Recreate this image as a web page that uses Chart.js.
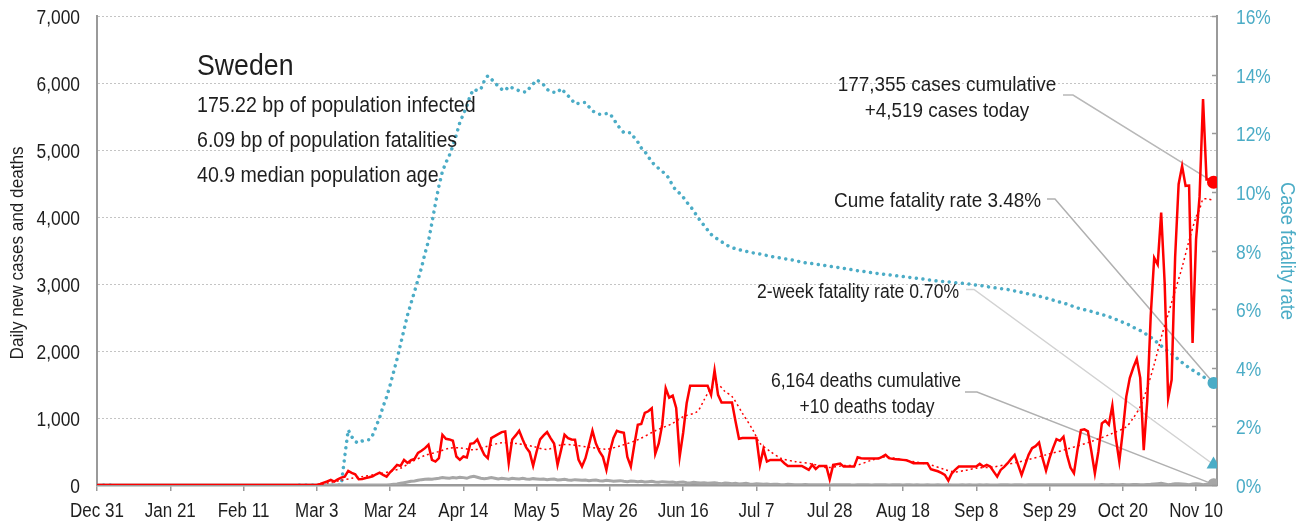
<!DOCTYPE html>
<html><head><meta charset="utf-8">
<script src="https://cdn.jsdelivr.net/npm/chart.js@4.4.0/dist/chart.umd.min.js"></script>
<style>html,body{margin:0;padding:0;background:#fff;overflow:hidden}#wrap{width:1308px;height:524px;position:relative}</style>
</head><body><div id="wrap"><canvas id="c" width="1308" height="524"></canvas></div>
<script>
// ---- data (day index 0 = Dec 31, 2019) ----
const tickLabels = ['Dec 31','Jan 21','Feb 11','Mar 3','Mar 24','Apr 14','May 5','May 26','Jun 16','Jul 7','Jul 28','Aug 18','Sep 8','Sep 29','Oct 20','Nov 10'];
const tickStep = 21;

const cases = [
0,0,0,0,0,0,0,0,0,0, 0,0,0,0,0,0,0,0,0,0, 0,0,0,0,0,0,0,0,0,0,
0,0,0,0,0,0,0,0,0,0, 0,0,0,0,0,0,0,0,0,0, 0,0,0,0,0,0,0,0,0,0,
0,0,0,0,15,35,55,75,50,85,
110,125,210,180,160,85,90,105,115,130,
160,185,150,125,190,240,300,285,375,330,
370,390,480,510,550,600,375,350,400,750,
690,680,660,425,375,425,410,615,625,680,
560,450,400,700,730,760,790,800,325,680,
740,810,680,560,490,285,500,680,740,790,
700,620,300,520,750,700,680,675,380,275,
400,600,810,620,500,420,225,500,700,810,
790,780,420,275,600,900,910,1075,1100,1145,
465,620,900,1445,1305,1335,1150,425,780,1220,
1480,1480,1480,1480,1480,1480,1345,1710,1345,1230,
1230,1230,1230,950,690,700,700,700,700,700,
300,535,350,375,375,375,375,325,285,285,
285,285,285,255,225,300,240,285,285,285,
85,300,310,320,275,275,275,275,415,400,
395,395,395,395,395,420,450,400,390,385,
380,375,370,350,325,325,325,325,325,235,
220,205,180,150,65,175,230,275,275,275,
275,275,275,315,275,300,275,200,125,225,
270,325,390,450,300,150,300,450,550,580,
635,400,215,400,550,685,660,720,450,260,
175,520,820,830,800,500,175,500,920,960,
900,1185,700,350,800,1320,1595,1750,1880,1600,
520,1250,2520,3390,3290,4065,3015,1295,1570,3400,
4490,4760,4465,4470,2120,3665,4300,5760,4560,4560,
4519];

const trendDays   = [0,63,66,70,73,76,80,84,87,90,94,98,101,104,108,112,116,120,125,129,133,136,141,146,150,155,160,165,168,172,174,176,178,180,182,185,188,190,193,196,200,205,209,214,218,222,226,231,235,239,243,246,249,252,257,260,264,267,272,278,285,291,295,297,299,301,303,305,307,309,311,313,315,316,317,318,320];
const trendValues = [0,0,30,70,100,125,160,200,250,340,440,500,550,555,525,580,630,620,575,530,600,600,565,535,585,675,810,920,1020,1095,1270,1445,1495,1395,1320,1070,820,625,500,400,350,315,260,290,300,370,420,375,340,300,230,195,220,250,270,300,340,380,450,535,650,770,870,1000,1170,1450,1800,2200,2550,2900,3250,3650,4000,4115,4265,4270,4250];

const fatalityRate = [
0,0,0,0,0,0,null,null,null,null,
null,null,null,null,null,null,null,null,null,null,
null,null,null,null,null,null,null,null,null,null,
null,null,null,null,null,null,null,null,null,null,
null,null,null,null,null,null,null,null,null,null,
null,null,null,null,null,null,null,null,0,0,
0,0,0,0,0,0,0,0,0,0,
0,0.97,1.88,1.65,1.48,1.43,1.5,1.54,1.54,1.7,
2.0,2.3,2.68,3.0,3.4,3.85,4.3,4.8,5.3,5.8,
6.2,6.6,7.0,7.41,7.9,8.32,8.95,9.6,10.2,10.7,
11.0,11.25,11.57,11.95,12.37,12.65,12.93,13.3,13.5,13.45,
13.5,13.79,13.96,13.85,13.73,13.6,13.5,13.45,13.6,13.55,
13.5,13.45,13.42,13.4,13.55,13.68,13.82,13.75,13.65,13.5,
13.41,13.4,13.39,13.53,13.4,13.28,13.15,13.0,13.02,13.05,
13.05,12.9,12.76,12.7,12.65,12.66,12.67,12.67,12.5,12.31,
12.15,12.02,12.02,12.02,11.85,11.7,11.5,11.38,11.2,11.02,
10.9,10.8,10.7,10.6,10.45,10.2,10.05,9.95,9.82,9.65,
9.52,9.35,9.17,9.0,8.85,8.7,8.55,8.45,8.38,8.3,
8.22,8.15,8.1,8.06,8.03,8.0,7.97,7.95,7.92,7.9,
7.88,7.85,7.83,7.8,7.78,7.76,7.74,7.72,7.7,7.68,
7.66,7.63,7.61,7.58,7.57,7.55,7.53,7.52,7.5,7.48,
7.46,7.44,7.43,7.41,7.39,7.37,7.35,7.33,7.31,7.3,
7.28,7.26,7.24,7.23,7.21,7.2,7.18,7.17,7.15,7.14,
7.13,7.11,7.1,7.08,7.07,7.05,7.04,7.02,7.0,6.99,
6.97,6.96,6.95,6.94,6.93,6.92,6.9,6.89,6.88,6.87,
6.86,6.84,6.82,6.81,6.79,6.77,6.75,6.73,6.72,6.7,
6.69,6.67,6.64,6.62,6.6,6.57,6.54,6.52,6.5,6.47,
6.44,6.41,6.38,6.35,6.31,6.27,6.24,6.21,6.17,6.13,
6.08,6.04,6.01,5.98,5.95,5.92,5.88,5.85,5.82,5.78,
5.74,5.7,5.65,5.6,5.55,5.5,5.45,5.38,5.32,5.27,
5.2,5.12,5.04,4.95,4.85,4.75,4.65,4.56,4.47,4.38,
4.28,4.18,4.09,4.0,3.92,3.85,3.77,3.7,3.62,3.55,
3.48];

const deaths = [
0,0,0,0,0,0,0,0,0,0, 0,0,0,0,0,0,0,0,0,0, 0,0,0,0,0,0,0,0,0,0, 0,0,0,0,0,0,0,0,0,0,
0,0,0,0,0,0,0,0,0,0, 0,0,0,0,0,0,0,0,0,0, 0,0,0,0,0,0,0,0,0,0, 0,0,0,0,0,0,0,0,0,0,
0,0,0,0,5,10,15,25,35,45,
55,60,70,80,85,90,85,95,100,110,
105,100,110,105,115,110,100,120,130,115,
100,95,100,110,100,90,100,95,85,100,
95,90,100,90,85,95,90,85,90,80,
85,90,75,80,85,75,70,80,75,70,
75,65,70,75,65,60,70,65,55,60,
65,55,50,60,55,50,55,45,50,55,
45,40,50,45,40,45,35,40,45,35,
30,40,35,30,35,25,30,35,25,20,
30,25,20,25,15,20,25,15,10,20,
15,10,15,8,10,12,5,5,10,8,
5,3,5,6,2,4,3,2,3,4,
0,3,4,2,3,5,2,1,3,4,
2,3,1,2,4,3,2,1,2,3,
2,1,2,3,1,2,1,0,2,1,
1,2,0,1,2,1,0,1,2,1,
2,1,0,2,1,2,1,0,1,2,
2,3,1,2,3,2,1,3,2,4,
3,2,4,3,2,3,5,3,2,4,
3,5,4,2,3,5,4,3,6,5,
4,6,3,5,7,5,4,6,8,5,
5,8,10,15,20,25,15,5,10,20,
20,15,10,5,15,20,15,5,10,5,
10];

const twoWeekRate = 0.70;
const country = 'Sweden';
const infoLines = ['175.22 bp of population infected','6.09 bp of population fatalities','40.9 median population age'];
const casesNote = ['177,355 cases cumulative','+4,519 cases today'];
const cumeNote = 'Cume fatality rate 3.48%';
const twoWeekNote = '2-week fatality rate 0.70%';
const deathsNote = ['6,164 deaths cumulative','+10 deaths today'];
const leftTitle = 'Daily new cases and deaths';
const rightTitle = 'Case fatality rate';

// ---- styling ----
const FONT = "'Liberation Sans', Arial, sans-serif";
const TEAL = '#4bacc6', RED = '#ff0000', GREY = '#a6a6a6', AXIS = '#9a9a9a', INK = '#1e1e1e';
const lastDay = cases.length - 1;
const xy = arr => arr.map((v, i) => ({x: i, y: v}));

// condensed-looking text: regular face squeezed horizontally
function txt(ctx, s, x, y, o) {
  ctx.save();
  ctx.translate(x, y);
  if (o.rot) ctx.rotate(o.rot);
  ctx.scale(o.sx || 0.88, 1);
  ctx.font = `${o.weight || 'normal'} ${o.size}px ${FONT}`;
  ctx.fillStyle = o.color || INK;
  ctx.textAlign = o.align || 'left';
  ctx.textBaseline = o.base || 'alphabetic';
  ctx.fillText(s, 0, 0);
  ctx.restore();
}

const overlay = {
  id: 'overlay',
  beforeDatasetsDraw(chart) {
    const {ctx, scales: {x, y, y1}} = chart;
    const px = x.getPixelForValue(lastDay);
    const leaders = [
      {pts: [[1063, 95], [1073, 95]], to: [px, y.getPixelForValue(cases[lastDay])], c: '#b8b8b8'},
      {pts: [[1047, 199], [1055, 199]], to: [px, y1.getPixelForValue(fatalityRate[lastDay])], c: '#b0b0b0'},
      {pts: [[966, 289.5], [974, 289.5]], to: [px, y1.getPixelForValue(twoWeekRate)], c: '#d2d2d2'},
      {pts: [[965, 392], [977, 392]], to: [px, y.getPixelForValue(deaths[lastDay])], c: '#b0b0b0'}
    ];
    ctx.save();
    ctx.lineWidth = 1.5;
    leaders.forEach(l => {
      ctx.strokeStyle = l.c;
      ctx.beginPath();
      ctx.moveTo(l.pts[0][0], l.pts[0][1]);
      ctx.lineTo(l.pts[1][0], l.pts[1][1]);
      ctx.lineTo(l.to[0], l.to[1]);
      ctx.stroke();
    });
    ctx.restore();
  },
  afterDraw(chart) {
    const {ctx, scales: {x, y, y1}, chartArea} = chart;
    ctx.save();
    // right axis inward ticks
    ctx.strokeStyle = AXIS; ctx.lineWidth = 1.5;
    y1.ticks.forEach(t => {
      const py = Math.round(y1.getPixelForValue(t.value)) + 0.5;
      ctx.beginPath(); ctx.moveTo(chartArea.right - 5, py); ctx.lineTo(chartArea.right, py); ctx.stroke();
    });
    ctx.restore();
    // tick labels (from the scales' own ticks)
    x.ticks.forEach(t => txt(ctx, String(t.label), x.getPixelForValue(t.value), 517, {size: 20, sx: 0.85, align: 'center'}));
    y.ticks.forEach(t => txt(ctx, String(t.label), 80, y.getPixelForValue(t.value) + 2.5, {size: 20, sx: 0.87, align: 'right', base: 'middle'}));
    y1.ticks.forEach(t => txt(ctx, String(t.label), 1236, y1.getPixelForValue(t.value) + 2.5, {size: 20, sx: 0.87, align: 'left', base: 'middle', color: TEAL}));
    // info block
    txt(ctx, country, 197, 75, {size: 30, sx: 0.89});
    infoLines.forEach((t, i) => txt(ctx, t, 197, 112 + i * 35, {size: 22.5, sx: 0.87}));
    // notes
    txt(ctx, casesNote[0], 947, 91, {size: 21, sx: 0.9, align: 'center'});
    txt(ctx, casesNote[1], 947, 117, {size: 21, sx: 0.9, align: 'center'});
    txt(ctx, cumeNote, 1041, 207, {size: 21, sx: 0.9, align: 'right'});
    txt(ctx, twoWeekNote, 959, 298, {size: 19.5, sx: 0.9, align: 'right'});
    txt(ctx, deathsNote[0], 866, 387, {size: 19.5, sx: 0.9, align: 'center'});
    txt(ctx, deathsNote[1], 867, 413, {size: 19.5, sx: 0.9, align: 'center'});
    // axis titles
    txt(ctx, leftTitle, 18, 253, {size: 19, sx: 0.9, align: 'center', base: 'middle', rot: -Math.PI / 2});
    txt(ctx, rightTitle, 1287, 251, {size: 20, sx: 0.92, align: 'center', base: 'middle', rot: Math.PI / 2, color: TEAL});
  }
};

const marker = (val, axis, color, style, r, order) => ({
  data: [{x: lastDay, y: val}], yAxisID: axis, showLine: false,
  pointStyle: style, pointRadius: r, pointBackgroundColor: color, pointBorderColor: color,
  pointBorderWidth: 0, order
});

const HIDDEN = 'rgba(0,0,0,0)';
const TINY = {family: FONT, size: 1};
new Chart(document.getElementById('c'), {
  type: 'line',
  data: {
    datasets: [
      {data: xy(cases), yAxisID: 'y', borderColor: RED, borderWidth: 2.5, pointRadius: 0, tension: 0, order: 2},
      {data: trendDays.map((d, i) => ({x: d, y: trendValues[i]})), yAxisID: 'y', borderColor: RED, borderWidth: 1.5, borderDash: [2, 3], pointRadius: 0, tension: 0.3, order: 3},
      {data: xy(deaths), yAxisID: 'y', borderColor: GREY, borderWidth: 3, pointRadius: 0, tension: 0, order: 4},
      {data: xy(fatalityRate), yAxisID: 'y1', borderColor: TEAL, borderWidth: 3.5, borderDash: [0.01, 6.6], borderCapStyle: 'round', pointRadius: 0, tension: 0, spanGaps: false, order: 5},
      marker(cases[lastDay], 'y', RED, 'circle', 6.5, 0),
      marker(fatalityRate[lastDay], 'y1', TEAL, 'circle', 6, 0),
      marker(twoWeekRate, 'y1', TEAL, 'triangle', 8, 0),
      marker(deaths[lastDay], 'y', GREY, 'circle', 6, 0)
    ]
  },
  options: {
    responsive: false, animation: false, devicePixelRatio: 1,
    layout: {padding: {top: 16, left: 0, right: 0, bottom: 0}},
    plugins: {legend: {display: false}, tooltip: {enabled: false}},
    scales: {
      x: {
        type: 'linear', min: 0, max: 321, position: 'bottom',
        afterFit: s => { s.height = 39; },
        afterBuildTicks: s => { s.ticks = tickLabels.map((_, i) => ({value: i * tickStep})); },
        grid: {drawOnChartArea: false, drawTicks: true, tickLength: 6, color: AXIS, lineWidth: 1.5},
        border: {display: true, color: AXIS, width: 2.5},
        ticks: {autoSkip: false, maxRotation: 0, padding: 0, color: HIDDEN, font: TINY,
          callback: v => tickLabels[Math.round(v / tickStep)]}
      },
      y: {
        position: 'left', min: 0, max: 7000,
        afterFit: s => { s.width = 97; },
        grid: {drawTicks: false, color: '#c4c4c4', lineWidth: 1},
        border: {display: true, color: AXIS, width: 2, dash: [2, 2]},
        ticks: {stepSize: 1000, padding: 0, color: HIDDEN, font: TINY,
          callback: v => v.toLocaleString('en-US')}
      },
      y1: {
        position: 'right', min: 0, max: 16,
        afterFit: s => { s.width = 91; },
        grid: {drawOnChartArea: false, drawTicks: false},
        border: {display: true, color: AXIS, width: 2},
        ticks: {stepSize: 2, padding: 0, color: HIDDEN, font: TINY,
          callback: v => v + '%'}
      }
    }
  },
  plugins: [overlay]
});
</script></body></html>
